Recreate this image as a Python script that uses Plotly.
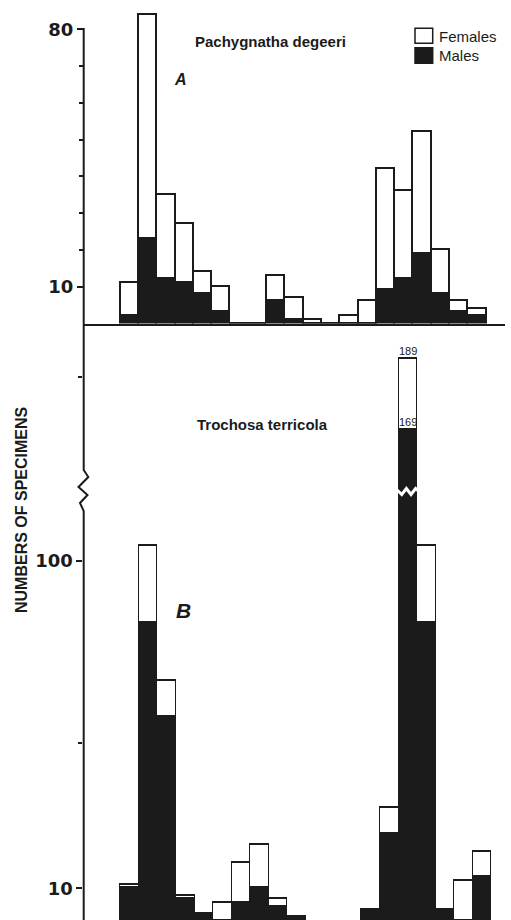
import plotly.graph_objects as go

# Sampling periods along the horizontal axis (one bar per period)
periods = list(range(20))

# Pachygnatha degeeri: total catch and males per period
pachy_total = [11, 84, 35, 27, 14, 10, 0, 0, 13, 7, 1, 0, 2, 6, 42, 36, 52, 20, 6, 4]
pachy_males = [2, 23, 12, 11, 8, 3, 0, 0, 6, 1, 0, 0, 0, 0, 9, 12, 19, 8, 3, 2]

# Trochosa terricola: total catch and males per period
troch_total = [11, 104, 67, 8, 3, 6, 17, 22, 7, 2, 0, 0, 0, 4, 32, 189, 104, 4, 12, 20]
troch_males = [10, 83, 57, 7, 3, 1, 6, 10, 5, 2, 0, 0, 0, 4, 25, 169, 83, 4, 1, 13]

pachy_females = [t - m for t, m in zip(pachy_total, pachy_males)]
troch_females = [t - m for t, m in zip(troch_total, troch_males)]

# Axis ticks
pachy_ticks = [10, 80]
pachy_minor = [20, 30, 40, 50, 60, 70]
troch_ticks = [10, 100]
troch_minor = [50]
troch_upper_minor = [184]

W, H = 511, 920
INK = "#1b1b1b"
SANS = "Liberation Sans"


def fx(px):
    return px / W


def fy(py):
    return 1 - py / H


fig = go.Figure()

bar_line = dict(color=INK, width=1.6)


def add_stack(xa, ya, males, females):
    fig.add_trace(go.Bar(x=periods, y=males, width=1, name="Males",
                         marker=dict(color=INK, line=bar_line),
                         xaxis=xa, yaxis=ya, showlegend=False))
    fig.add_trace(go.Bar(x=periods, y=females, width=1, name="Females",
                         marker=dict(color="white", line=bar_line),
                         xaxis=xa, yaxis=ya, showlegend=False))


add_stack("x", "y", pachy_males, pachy_females)
add_stack("x2", "y2", troch_males, troch_females)
add_stack("x3", "y3", troch_males, troch_females)

tickfont = dict(family="DejaVu Sans", size=18, color=INK, weight="bold")


def yax(domain, rng, anchor, tickvals, minor_vals):
    return dict(domain=domain, range=rng, anchor=anchor,
                tickmode="array", tickvals=tickvals,
                ticktext=[str(v) for v in tickvals],
                ticks="outside", ticklen=6, tickwidth=2, tickcolor=INK,
                tickfont=tickfont,
                minor=dict(tickmode="array", tickvals=minor_vals,
                           ticks="outside", ticklen=4, tickwidth=1.5,
                           tickcolor=INK, showgrid=False),
                showgrid=False, zeroline=False, showline=False)


hidden_x = dict(showgrid=False, zeroline=False, showticklabels=False,
                ticks="", showline=False)

fig.update_layout(
    width=W, height=H, autosize=False,
    margin=dict(l=0, r=0, t=0, b=0),
    paper_bgcolor="white", plot_bgcolor="rgba(0,0,0,0)",
    barmode="stack", bargap=0,
    xaxis=dict(domain=[fx(84), fx(505)], range=[-2.5, 20.5], anchor="y",
               showline=True, linecolor=INK, linewidth=2,
               showgrid=False, zeroline=False, showticklabels=False, ticks=""),
    yaxis=yax([fy(323.5), fy(8)], [0, 85.8], "x", pachy_ticks, pachy_minor),
    xaxis2=dict(domain=[fx(83.4), 1], range=[-2.511, 20.54], anchor="y2",
                **hidden_x),
    yaxis2=yax([0, fy(491)], [1.29, 119.24], "x2", troch_ticks, troch_minor),
    xaxis3=dict(domain=[fx(83.4), 1], range=[-2.511, 20.54], anchor="y3",
                matches="x2", **hidden_x),
    yaxis3=yax([fy(491), fy(340)], [151.6, 194.4], "x3", [], troch_upper_minor),
)

# Continuous vertical axis with a break mark
axis_pts = [(83.7, 28), (83.7, 470), (88.3, 477), (78.5, 487), (87.5, 495),
            (80.0, 503), (83.7, 511), (83.7, 920)]
axis_path = "M " + " L ".join(f"{fx(x):.5f},{fy(y):.5f}" for x, y in axis_pts)
fig.add_shape(type="path", path=axis_path, xref="paper", yref="paper",
              line=dict(color=INK, width=2))

# Break across the tallest Trochosa bar
brk = [(14.40, 490), (14.65, 494.5), (14.9, 488.5), (15.15, 494.5),
       (15.4, 488.5), (15.6, 492)]
brk_path = "M " + " L ".join(f"{x:.3f},{fy(y):.5f}" for x, y in brk)
fig.add_shape(type="path", path=brk_path, xref="x2", yref="paper",
              line=dict(color="white", width=3))

# Legend keys
fig.add_shape(type="rect", xref="paper", yref="paper",
              x0=fx(415), x1=fx(432.7), y0=fy(43.3), y1=fy(28.3),
              fillcolor="white", line=dict(color=INK, width=1.5))
fig.add_shape(type="rect", xref="paper", yref="paper",
              x0=fx(415), x1=fx(432.7), y0=fy(63.3), y1=fy(47.7),
              fillcolor=INK, line=dict(color=INK, width=1.5))


def note(text, x, y, size, bold=True, italic=False, xanchor="center",
         angle=0, **kw):
    fig.add_annotation(text=text, x=x, y=y, showarrow=False,
                       xanchor=xanchor, yanchor=kw.pop("yanchor", "middle"),
                       textangle=angle,
                       xref=kw.pop("xref", "paper"), yref=kw.pop("yref", "paper"),
                       font=dict(family=SANS, size=size, color=INK,
                                 weight="bold" if bold else "normal",
                                 style="italic" if italic else "normal"),
                       **kw)


note("Females", fx(437), fy(36.5), 15, bold=False, xanchor="left")
note("Males", fx(437), fy(55.5), 15, bold=False, xanchor="left")
note("Pachygnatha degeeri", fx(270), fy(42), 15)
note("A", fx(180), fy(80), 16, italic=True)
note("Trochosa terricola", fx(262.5), fy(425), 15)
note("B", fx(183.5), fy(610.5), 21, italic=True)
note("NUMBERS OF SPECIMENS", fx(21), fy(510), 16, angle=-90)

# Value labels on the broken bar
peak = troch_total.index(max(troch_total))
note(str(troch_total[peak]), periods[peak], troch_total[peak], 11,
     bold=False, xref="x3", yref="y3", yanchor="bottom")
note(str(troch_males[peak]), periods[peak], troch_males[peak], 11,
     bold=False, xref="x3", yref="y3", yanchor="bottom")

fig.write_html("out.html")
